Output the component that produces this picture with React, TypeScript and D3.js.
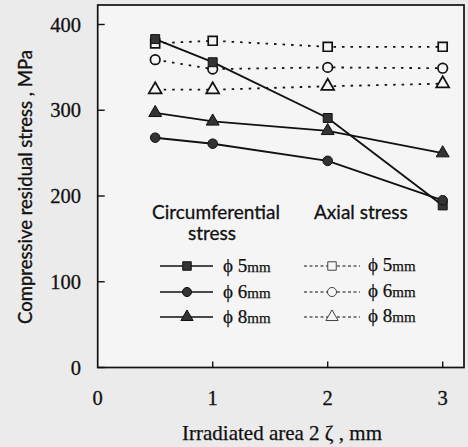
import { useEffect, useRef } from 'react';
import * as d3 from 'd3';

// irradiated area positions
const areas = [0.5, 1, 2, 3];
// circumferential stress (solid, filled markers)
const circ5 = [383, 356, 291, 189];
const circ6 = [268, 261, 241, 195];
const circ8 = [297, 287, 276, 250];
// axial stress (dotted, open markers)
const axial5 = [378, 381, 374, 374];
const axial6 = [359, 348, 350, 349];
const axial8 = [324, 324, 328, 331];

const xTicks = [0, 1, 2, 3];
const yTicks = [0, 100, 200, 300, 400];
const sizes = ['5', '6', '8'];

const serif = '"Liberation Serif", "Times New Roman", serif';
const sans = 'Lato, "Open Sans", sans-serif';

function App() {
  const svgRef = useRef<SVGSVGElement | null>(null);

  useEffect(() => {
    if (!svgRef.current) return;
    const svg = d3.select(svgRef.current);
    svg.selectAll('*').remove();

    const width = 468;
    const height = 447;

    const x = d3.scaleLinear().domain([0, 3]).range([97.7, 442.7]);
    const y = d3.scaleLinear().domain([0, 400]).range([367.5, 24.5]);

    svg.append('rect').attr('width', width).attr('height', height).attr('fill', '#ebebeb');
    svg.append('rect')
      .attr('x', x(0)).attr('y', 5)
      .attr('width', 464 - x(0)).attr('height', y(0) - 5)
      .attr('fill', '#f5f5f5')
      .attr('stroke', '#111').attr('stroke-width', 1.7);

    // y ticks (inward)
    yTicks.forEach((t) => {
      svg.append('line')
        .attr('x1', x(0)).attr('x2', x(0) + 7)
        .attr('y1', y(t)).attr('y2', y(t))
        .attr('stroke', '#111').attr('stroke-width', 1.4);
      svg.append('text')
        .attr('x', 81).attr('y', y(t) + 7)
        .attr('text-anchor', 'end')
        .attr('font-family', serif).attr('font-size', 20.5).attr('fill', '#111')
        .attr('stroke', '#111').attr('stroke-width', 0.3)
        .text(t);
    });
    // x ticks (inward)
    xTicks.forEach((t) => {
      if (t > 0) {
        svg.append('line')
          .attr('x1', x(t)).attr('x2', x(t))
          .attr('y1', y(0)).attr('y2', y(0) - 6)
          .attr('stroke', '#111').attr('stroke-width', 1.4);
      }
      svg.append('text')
        .attr('x', x(t)).attr('y', 405)
        .attr('text-anchor', 'middle')
        .attr('font-family', serif).attr('font-size', 20.5).attr('fill', '#111')
        .attr('stroke', '#111').attr('stroke-width', 0.3)
        .text(t);
    });

    svg.append('text')
      .attr('x', 282).attr('y', 440)
      .attr('text-anchor', 'middle')
      .attr('font-family', serif).attr('font-size', 21).attr('fill', '#111')
      .attr('stroke', '#111').attr('stroke-width', 0.25)
      .text('Irradiated area 2 ζ  , mm');

    svg.append('text')
      .attr('transform', 'translate(32,187) rotate(-90)')
      .attr('text-anchor', 'middle')
      .attr('font-family', sans).attr('font-size', 18.5).attr('fill', '#111')
      .attr('stroke', '#111').attr('stroke-width', 0.35)
      .text('Compressive residual stress , MPa');

    const line = d3.line<number>().x((_, i) => x(areas[i])).y((d) => y(d));
    const symbols = [d3.symbolSquare, d3.symbolCircle, d3.symbolTriangle];
    const symSize = [80, 72, 72];

    const drawSeries = (vals: number[], k: number, filled: boolean) => {
      svg.append('path')
        .attr('d', line(vals))
        .attr('fill', 'none')
        .attr('stroke', '#111')
        .attr('stroke-width', filled ? 1.9 : 1.8)
        .attr('stroke-dasharray', filled ? null : '2.5,6');
      vals.forEach((v, i) => {
        svg.append('path')
          .attr('d', d3.symbol().type(symbols[k]).size(symSize[k])())
          .attr('transform', `translate(${x(areas[i])},${y(v)})`)
          .attr('fill', filled ? '#333' : '#f5f5f5')
          .attr('stroke', '#111')
          .attr('stroke-width', filled ? 1 : 1.7);
      });
    };

    [axial5, axial6, axial8].forEach((s, k) => drawSeries(s, k, false));
    [circ5, circ6, circ8].forEach((s, k) => drawSeries(s, k, true));

    // legend
    const lg = svg.append('g');
    const head = (tx: number, ty: number, txt: string, anchor: string) =>
      lg.append('text').attr('x', tx).attr('y', ty).attr('text-anchor', anchor)
        .attr('font-family', sans).attr('font-size', 19).attr('fill', '#111')
        .attr('stroke', '#111').attr('stroke-width', 0.3)
        .text(txt);
    head(152, 219, 'Circumferential', 'start');
    head(212, 240, 'stress', 'middle');
    head(314, 219, 'Axial  stress', 'start');

    const rowY = [266, 292, 317];
    sizes.forEach((s, k) => {
      const yy = rowY[k];
      lg.append('line').attr('x1', 160).attr('x2', 213).attr('y1', yy).attr('y2', yy)
        .attr('stroke', '#111').attr('stroke-width', 1.7);
      lg.append('path')
        .attr('d', d3.symbol().type(symbols[k]).size(symSize[k] * 0.9)())
        .attr('transform', `translate(187,${yy})`)
        .attr('fill', '#333').attr('stroke', '#111');
      const t1 = lg.append('text').attr('x', 223).attr('y', yy + 6)
        .attr('font-family', serif).attr('font-size', 19).attr('fill', '#111')
        .attr('stroke', '#111').attr('stroke-width', 0.25);
      t1.append('tspan').text(`ϕ ${s}`);
      t1.append('tspan').attr('font-size', 15).text('mm');

      lg.append('line').attr('x1', 304).attr('x2', 360).attr('y1', yy).attr('y2', yy)
        .attr('stroke', '#111').attr('stroke-width', 1.2).attr('stroke-dasharray', '3,2.5');
      lg.append('path')
        .attr('d', d3.symbol().type(symbols[k]).size(symSize[k] * 0.9)())
        .attr('transform', `translate(332,${yy})`)
        .attr('fill', '#f5f5f5').attr('stroke', '#444').attr('stroke-width', 1);
      const t2 = lg.append('text').attr('x', 368).attr('y', yy + 5)
        .attr('font-family', serif).attr('font-size', 19).attr('fill', '#111')
        .attr('stroke', '#111').attr('stroke-width', 0.25);
      t2.append('tspan').text(`ϕ ${s}`);
      t2.append('tspan').attr('font-size', 15).text('mm');
    });
  }, []);

  return (
    <svg
      ref={svgRef}
      width={468}
      height={447}
      style={{ position: 'absolute', left: 0, top: 0 }}
    />
  );
}

export default App;
